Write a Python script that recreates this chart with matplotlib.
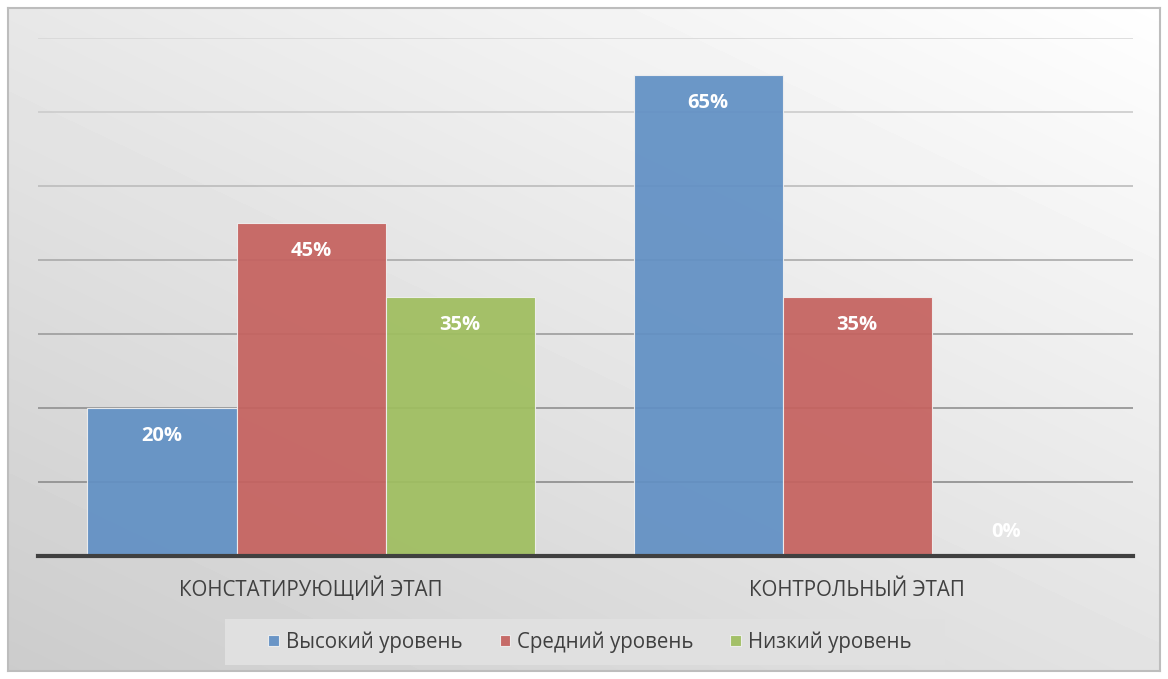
import numpy as np
import matplotlib
matplotlib.use('Agg')
import matplotlib.pyplot as plt
from matplotlib.patches import Rectangle

# data
stages = ['КОНСТАТИРУЮЩИЙ ЭТАП', 'КОНТРОЛЬНЫЙ ЭТАП']
levels = ['Высокий уровень', 'Средний уровень', 'Низкий уровень']
high = [20, 65]
mid = [45, 35]
low = [35, 0]
colors = ['#6190C4', '#C5625F', '#9FBE5F']

plt.rcParams['font.family'] = ['Open Sans', 'DejaVu Sans']

W, H = 1168, 679
fig = plt.figure(figsize=(W / 100, H / 100), dpi=100)

# gradient background panel with thin border
bg = fig.add_axes([8 / W, 1 - 671 / H, 1152 / W, 663 / H])
xx, yy = np.meshgrid(np.linspace(0, 1, 200), np.linspace(0, 1, 200))
# light at top-right, darker towards left and bottom
shade = 0.80 + 0.18 * (0.5 * xx + 0.6 * yy)
shade = np.clip(shade, 0, 1)
bg.imshow(shade, cmap='gray', vmin=0, vmax=1, origin='lower',
          extent=[0, 1, 0, 1], aspect='auto', interpolation='bilinear')
bg.set_xlim(0, 1)
bg.set_ylim(0, 1)
bg.set_xticks([])
bg.set_yticks([])
for s in bg.spines.values():
    s.set_color('#bdbdbd')
    s.set_linewidth(1.5)

# legend panel
fig.patches.append(Rectangle((225 / W, 1 - 665 / H), 720 / W, 46 / H,
                             transform=fig.transFigure, facecolor='#e0e0e0',
                             edgecolor='none', zorder=1))

ax = fig.add_axes([38 / W, 1 - 556 / H, (1133 - 38) / W, (556 - 38) / H])
ax.patch.set_alpha(0)

x = np.arange(len(stages))
w = 0.273
series = [high, mid, low]
for i, vals in enumerate(series):
    pos = x + (i - 1) * w
    ax.bar(pos, vals, width=w, color=colors[i], alpha=0.93,
           edgecolor='#f0f0f0', linewidth=0.8, zorder=2, label=levels[i])
    for p, v in zip(pos, vals):
        off = -28 if v > 0 else 24
        ax.annotate(f'{v}%', (p, v), xytext=(0, off * 0.72),
                    textcoords='offset points', ha='center', va='center',
                    color='white', fontsize=14.5, fontweight='bold', zorder=3)

ax.set_xlim(-0.5, 1.505)
ax.set_ylim(0, 70)
# gridlines fade out towards the top, like the original's gradient overlay
grid_y = np.arange(10, 71, 10)
grid_c = ['#8c8c8c', '#909090', '#9c9c9c', '#aaaaaa', '#bcbcbc', '#cccccc', '#d8d8d8']
for gy, gc in zip(grid_y, grid_c):
    ax.axhline(gy, color=gc, linewidth=1.2, zorder=0)
ax.set_yticks([])
ax.tick_params(axis='x', bottom=False, length=0, pad=28.5)
ax.set_xticks(x)
ax.set_xticklabels(stages, fontsize=14.8, color='#404040')
for lbl in ax.get_xticklabels():
    lbl.set_va('baseline')
for s in ['top', 'right', 'left']:
    ax.spines[s].set_visible(False)
ax.spines['bottom'].set_color('#404040')
ax.spines['bottom'].set_linewidth(3)

leg = fig.legend(loc='center', bbox_to_anchor=(590 / W, 1 - 642 / H), ncol=3,
                 fontsize=14.8, frameon=False, handlelength=0.5, handleheight=0.5,
                 columnspacing=1.8, handletextpad=0.35)
for t in leg.get_texts():
    t.set_color('#404040')

fig.savefig('out.png', dpi=100)
